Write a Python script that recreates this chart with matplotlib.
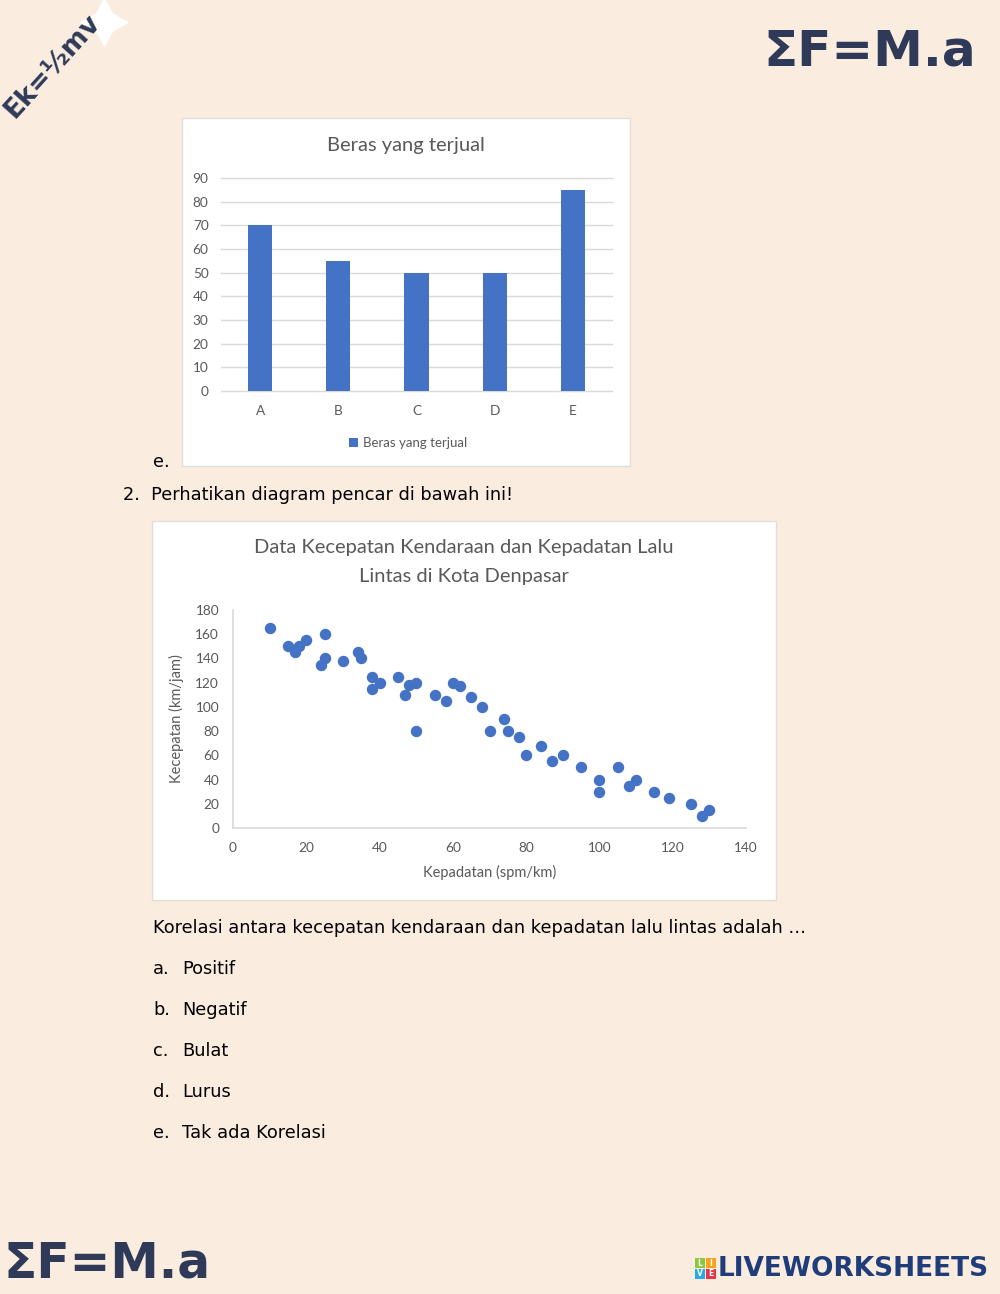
import numpy as np
import matplotlib as mpl
mpl.use('Agg')
import matplotlib.pyplot as plt
from matplotlib.patches import Rectangle

# ---- data ----
bar_cats = ['A', 'B', 'C', 'D', 'E']
bar_vals = [70, 55, 50, 50, 85]
bar_label = 'Beras yang terjual'

kepadatan = [10, 15, 17, 18, 20, 24, 25, 25, 30, 34, 35, 38, 38, 40, 45, 47, 48,
             50, 50, 55, 58, 60, 62, 65, 68, 70, 74, 75, 78, 80, 84, 87, 90, 95,
             100, 100, 105, 108, 110, 115, 119, 125, 128, 130]
kecepatan = [165, 150, 145, 150, 155, 135, 160, 140, 138, 145, 140, 125, 115, 120, 125, 110, 118,
             120, 80, 110, 105, 120, 117, 108, 100, 80, 90, 80, 75, 60, 68, 55, 60, 50,
             40, 30, 50, 35, 40, 30, 25, 20, 10, 15]

options = ['Positif', 'Negatif', 'Bulat', 'Lurus', 'Tak ada Korelasi']
letters = ['a.', 'b.', 'c.', 'd.', 'e.']

W, H = 1000, 1294
BG = '#FBECE0'
NAVY = '#2F3A58'
GRAY = '#595959'
LINE = '#D9D9D9'
BLUE = '#4472C4'
CHART_FONT = 'Lato'
TEXT_FONT = 'DejaVu Sans'
TXT = 12.8


def box(x0, y0, x1, y1):
    return [x0 / W, 1 - y1 / H, (x1 - x0) / W, (y1 - y0) / H]


def fx(x):
    return x / W


def fy(y):
    return 1 - y / H


fig = plt.figure(figsize=(10, 12.94), dpi=100)
fig.patch.set_facecolor(BG)

# chart panels (behind the axes)
fig.patches.append(Rectangle((fx(182), fy(466)), (630 - 182) / W, (466 - 118) / H,
                             transform=fig.transFigure, facecolor='white',
                             edgecolor='#E3DDD8', lw=1, zorder=-5))
fig.patches.append(Rectangle((fx(152), fy(900)), (776 - 152) / W, (900 - 521) / H,
                             transform=fig.transFigure, facecolor='white',
                             edgecolor='#E3DDD8', lw=1, zorder=-5))

# ---- bar chart ----
ax1 = fig.add_axes(box(221, 178, 612, 391))
ax1.set_facecolor('none')
pos = np.arange(len(bar_cats))
ax1.bar(pos, bar_vals, width=0.31, color=BLUE, zorder=3, label=bar_label)
ax1.set_xlim(-0.5, len(bar_cats) - 0.5)
ax1.set_ylim(0, 90)
ax1.set_yticks(np.arange(0, 91, 10))
ax1.set_xticks(pos)
ax1.set_xticklabels(bar_cats)
ax1.grid(axis='y', color=LINE, lw=1, zorder=0, clip_on=False)
ax1.set_axisbelow(True)
for s in ax1.spines.values():
    s.set_visible(False)
ax1.tick_params(length=0, colors=GRAY, labelsize=9.8)
ax1.tick_params(axis='y', pad=9)
ax1.tick_params(axis='x', pad=10)
for t in ax1.get_xticklabels() + ax1.get_yticklabels():
    t.set_fontfamily(CHART_FONT)
fig.text(fx(406), fy(145), 'Beras yang terjual', ha='center', va='center',
         fontsize=14.5, color=GRAY, family=CHART_FONT)
leg = ax1.legend(loc='center', bbox_to_anchor=(fx(408), fy(443)),
                 bbox_transform=fig.transFigure, frameon=False,
                 handlelength=0.7, handleheight=0.7, handletextpad=0.4,
                 prop={'family': CHART_FONT, 'size': 9.5})
for t in leg.get_texts():
    t.set_color(GRAY)

# ---- scatter chart ----
ax2 = fig.add_axes(box(233, 610, 746, 828))
ax2.set_facecolor('none')
ax2.scatter(kepadatan, kecepatan, s=52, color=BLUE, zorder=3, clip_on=False)
ax2.set_xlim(0, 140)
ax2.set_ylim(0, 180)
ax2.set_xticks(np.arange(0, 141, 20))
ax2.set_yticks(np.arange(0, 181, 20))
for side in ['top', 'right']:
    ax2.spines[side].set_visible(False)
for side in ['left', 'bottom']:
    ax2.spines[side].set_color(LINE)
    ax2.spines[side].set_linewidth(1.2)
ax2.tick_params(length=0, colors=GRAY, labelsize=9.8, pad=10)
for t in ax2.get_xticklabels() + ax2.get_yticklabels():
    t.set_fontfamily(CHART_FONT)
ax2.set_xlabel('Kepadatan (spm/km)', fontsize=10.5, color=GRAY, family=CHART_FONT, labelpad=8)
ax2.set_ylabel('Kecepatan (km/jam)', fontsize=10.5, color=GRAY, family=CHART_FONT, labelpad=8)
fig.text(fx(464), fy(548), 'Data Kecepatan Kendaraan dan Kepadatan Lalu',
         ha='center', va='center', fontsize=14.5, color=GRAY, family=CHART_FONT)
fig.text(fx(464), fy(577), 'Lintas di Kota Denpasar',
         ha='center', va='center', fontsize=14.5, color=GRAY, family=CHART_FONT)

# ---- worksheet text ----
fig.text(fx(153), fy(462), 'e.', ha='left', va='center', fontsize=TXT, color='black', family=TEXT_FONT)
fig.text(fx(123), fy(495), '2.  Perhatikan diagram pencar di bawah ini!', ha='left', va='center',
         fontsize=TXT, color='black', family=TEXT_FONT)
fig.text(fx(153), fy(928), 'Korelasi antara kecepatan kendaraan dan kepadatan lalu lintas adalah …',
         ha='left', va='center', fontsize=TXT, color='black', family=TEXT_FONT)
for i, (l, o) in enumerate(zip(letters, options)):
    yy = 969 + i * 41
    fig.text(fx(153), fy(yy), l, ha='left', va='center', fontsize=TXT, color='black', family=TEXT_FONT)
    fig.text(fx(182), fy(yy), o, ha='left', va='center', fontsize=TXT, color='black', family=TEXT_FONT)

# ---- decorations ----
fig.text(fx(870), fy(52), 'ΣF=M.a', ha='center', va='center', fontsize=36,
         fontweight='heavy', color=NAVY, family='DejaVu Sans')
fig.text(fx(4), fy(1264), 'ΣF=M.a', ha='left', va='center', fontsize=35,
         fontweight='heavy', color=NAVY, family='DejaVu Sans')
fig.text(fx(52), fy(66), 'Ek=½mv', ha='center', va='center', fontsize=19, rotation=48,
         fontweight='heavy', color=NAVY, family='DejaVu Sans')
fig.add_artist(plt.Line2D([fx(104)], [fy(22)], marker=(4, 1, 0), markersize=34,
                          color='white', transform=fig.transFigure))

# liveworksheets logo
sq = [('#8DC63F', 'L', 695, 1258), ('#F7A21B', 'I', 706, 1258),
      ('#29ABE2', 'V', 695, 1269), ('#E8334A', 'E', 706, 1269)]
for c, ch, x0, y0 in sq:
    fig.patches.append(Rectangle((fx(x0), fy(y0 + 10)), 10 / W, 10 / H,
                                 transform=fig.transFigure, facecolor=c, edgecolor='none'))
    fig.text(fx(x0 + 5), fy(y0 + 5), ch, ha='center', va='center', fontsize=5.5,
             color='white', fontweight='bold')
fig.text(fx(718), fy(1269), 'LIVEWORKSHEETS', ha='left', va='center', fontsize=19,
         fontweight='heavy', color='#1F3D7A', family='DejaVu Sans')

fig.savefig('out.png', dpi=100, facecolor=BG)
